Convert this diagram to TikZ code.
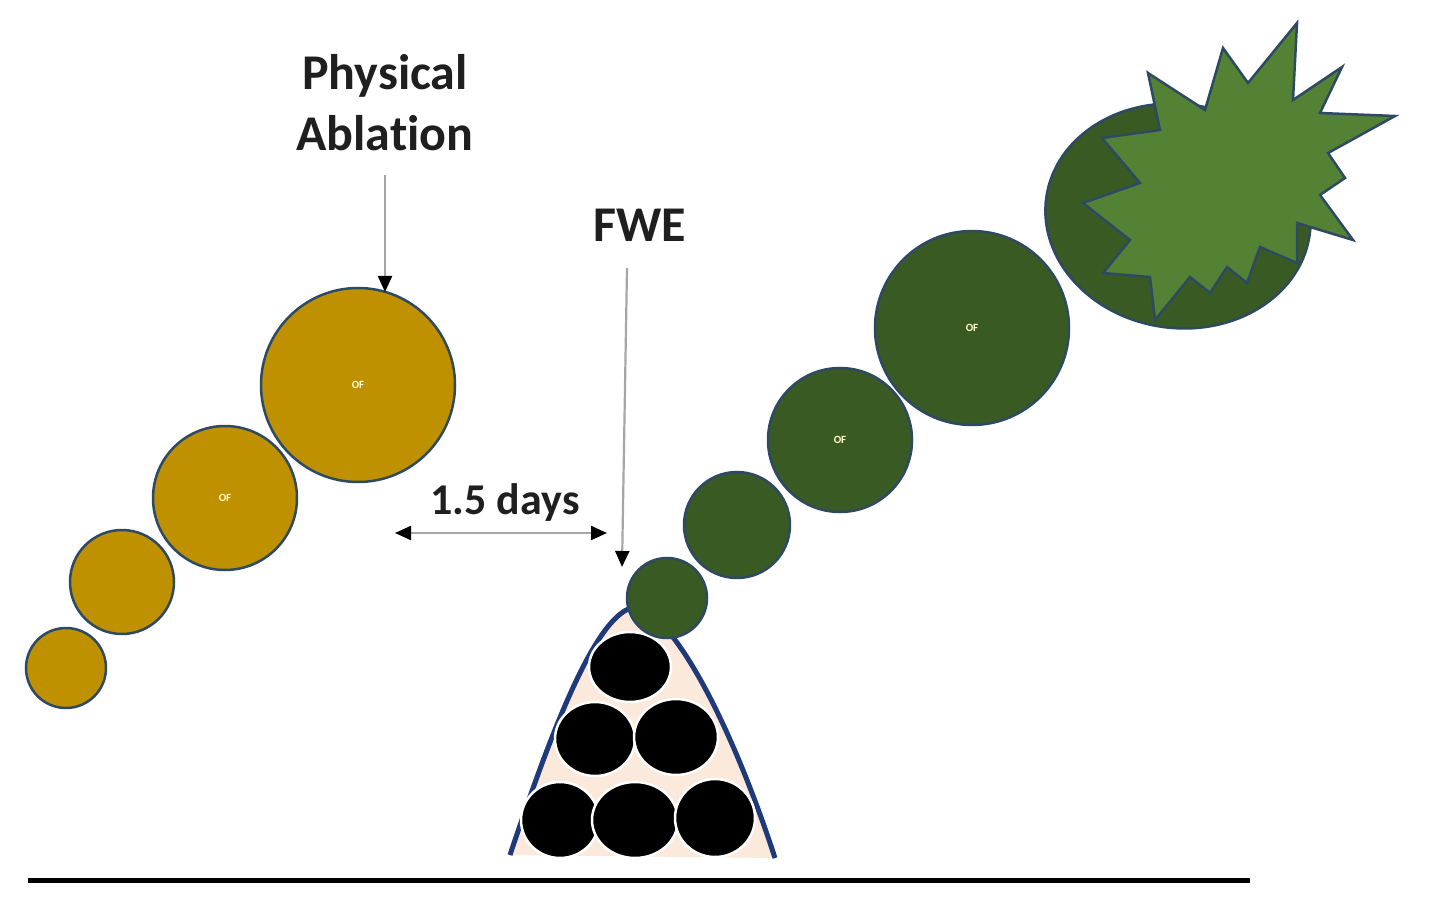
\documentclass[tikz,border=0pt]{standalone}
\usepackage{fontspec}
\setmainfont[Ligatures=NoCommon]{Carlito}
\usetikzlibrary{arrows.meta,shapes.geometric}
\definecolor{gold}{HTML}{BF9000}
\definecolor{dgreen}{HTML}{3A5A24}
\definecolor{lgreen}{HTML}{548235}
\definecolor{rim}{HTML}{2E4A62}
\definecolor{navy}{HTML}{1F3A7A}
\definecolor{peach}{HTML}{FBE9DC}
\definecolor{lblgray}{HTML}{A6A6A6}
\tikzset{
  cell/.style={circle,draw=rim,line width=2.5pt,inner sep=0pt,outer sep=0pt,
    font=\fontsize{11}{11}\bfseries\selectfont,text=white!80!yellow},
  goldc/.style={cell,fill=gold},
  greenc/.style={cell,fill=dgreen},
  blackc/.style={ellipse,fill=black,draw=white,line width=2.5pt,inner sep=0pt},
  lbl/.style={font=\fontsize{50}{61}\bfseries\selectfont,align=center,text=black!88},
  ptr/.style={draw=lblgray,line width=2.2pt,-{Triangle[length=16pt,width=14pt,color=black]}},
  dptr/.style={draw=lblgray,line width=2.2pt,{Triangle[length=16pt,width=14pt,color=black]}-{Triangle[length=16pt,width=14pt,color=black]}}
}
\begin{document}
\begin{tikzpicture}[x=1pt,y=-1pt]
\useasboundingbox (0,0) rectangle (1440,901);
% baseline
\draw[line width=5pt] (28,880) -- (1250,880);
% gold cells
\node[goldc,minimum size=80pt] (g1) at (66,668) {};
\node[goldc,minimum size=104pt] (g2) at (122,582) {};
\node[goldc,minimum size=144pt] (g3) at (225,498) {OF};
\node[goldc,minimum size=194pt] (g4) at (358,385) {OF};
% pyramid
\draw[navy,line width=5pt,fill=peach] (510,855) .. controls (555,720) and (598,612) .. (635,607)
  .. controls (672,612) and (730,720) .. (775,858);
\node[blackc,minimum width=82pt,minimum height=70pt] (b1) at (630,667) {};
\node[blackc,minimum width=80pt,minimum height=74pt] (b2) at (595,739) {};
\node[blackc,minimum width=84pt,minimum height=76pt] (b3) at (676,737) {};
\node[blackc,minimum width=78pt,minimum height=76pt] (b4) at (560,820) {};
\node[blackc,minimum width=86pt,minimum height=76pt] (b5) at (635,820) {};
\node[blackc,minimum width=80pt,minimum height=78pt] (b6) at (715,818) {};
% green cells
\node[greenc,minimum size=80pt] (e1) at (667,598) {};
\node[greenc,minimum size=106pt] (e2) at (737,525) {};
\node[greenc,minimum size=144pt] (e3) at (840,440) {OF};
\node[greenc,minimum size=194pt] (e4) at (972,328) {OF};
\node[ellipse,draw=rim,line width=2.5pt,fill=dgreen,minimum width=266pt,minimum height=224pt,inner sep=0pt,rotate=-8] (e5) at (1178,216) {};
% star
\draw[rim,line width=2.5pt,fill=lgreen,line join=miter]
 (1297,23) -- (1293,100) -- (1342,67) -- (1320,113) -- (1395,116) -- (1328,153)
 -- (1345,178) -- (1320,195) -- (1353,240) -- (1297,223) -- (1297,263) -- (1260,247)
 -- (1247,283) -- (1227,267) -- (1210,293) -- (1190,277) -- (1155,320) -- (1150,277)
 -- (1103,273) -- (1130,240) -- (1083,203) -- (1140,183) -- (1102,138) -- (1160,130)
 -- (1148,73) -- (1205,110) -- (1223,48) -- (1248,83) -- cycle;
% labels
\node[lbl] (pa) at (385,103) {Physical\\Ablation};
\coordinate (pastart) at (385,175);
\coordinate (paend) at (385,292);
\draw[ptr] (pastart) -- (paend);
\node[lbl] (fwe) at (640,225) {FWE};
\coordinate (fwestart) at (627,268);
\coordinate (fweend) at (622,567);
\draw[ptr] (fwestart) -- (fweend);
\coordinate (dl) at (395,533);
\coordinate (dr) at (607,533);
\draw[dptr] (dl) -- (dr);
\node[lbl,font=\fontsize{44}{50}\bfseries\selectfont] (days) at (505,503) {1.5 days};
\end{tikzpicture}
\end{document}
